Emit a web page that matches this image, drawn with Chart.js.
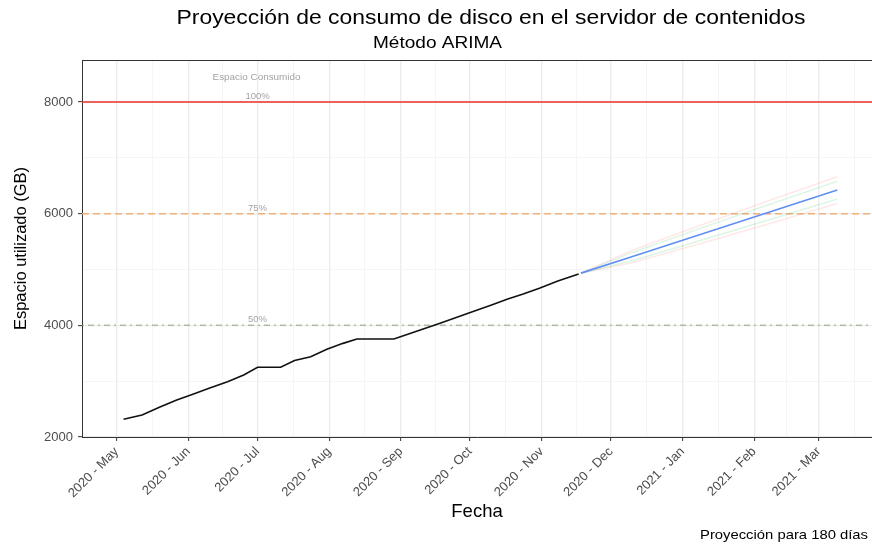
<!DOCTYPE html>
<html>
<head>
<meta charset="utf-8">
<script src="https://cdn.jsdelivr.net/npm/chart.js@4"></script>
<style>
  html,body{margin:0;padding:0;background:#fff;}
  #wrap{width:872px;height:544px;position:relative;}
</style>
</head>
<body>
<div id="wrap"><canvas id="c" width="872" height="544"></canvas></div>
<script>
// ---------- DATA ----------
const chartTitle = 'Proyección de consumo de disco en el servidor de contenidos';
const chartSubtitle = 'Método ARIMA';
const chartCaption = 'Proyección para 180 días';
const xTitle = 'Fecha';
const yTitle = 'Espacio utilizado (GB)';

const monthStarts = ['2020-04-01','2020-05-01','2020-06-01','2020-07-01','2020-08-01','2020-09-01','2020-10-01','2020-11-01','2020-12-01','2021-01-01','2021-02-01','2021-03-01','2021-04-01'];
const monthLabels = ['2020 - Apr','2020 - May','2020 - Jun','2020 - Jul','2020 - Aug','2020 - Sep','2020 - Oct','2020 - Nov','2020 - Dec','2021 - Jan','2021 - Feb','2021 - Mar','2021 - Apr'];
const yMajorTicks = [2000, 4000, 6000, 8000];

const histDates = ['2020-05-04','2020-05-12','2020-05-20','2020-05-27','2020-06-03','2020-06-10','2020-06-18','2020-06-25','2020-07-01','2020-07-11','2020-07-17','2020-07-24','2020-07-31','2020-08-07','2020-08-13','2020-08-29','2020-09-05','2020-09-18','2020-09-25','2020-10-02','2020-10-10','2020-10-17','2020-10-24','2020-10-31','2020-11-08','2020-11-17'];
const histValues = [2317,2394,2540,2662,2767,2872,2990,3110,3248,3248,3370,3437,3570,3677,3755,3755,3855,4036,4140,4244,4360,4467,4560,4664,4795,4918];

const fcDates = ['2020-11-18','2020-12-10','2021-01-10','2021-02-10','2021-03-09'];
const fcMean  = [4935,5230,5645,6060,6422];
const fcHi95  = [4935,5339,5812,6270,6663];
const fcLo95  = [4935,5121,5478,5850,6181];
const fcHi80  = [4935,5302,5755,6198,6580];
const fcLo80  = [4935,5158,5535,5922,6264];

const refValues = [8000, 6000, 4000];
const refLabels = ['100%', '75%', '50%'];
const refHeader = 'Espacio Consumido';
const refLabelDate = '2020-07-01';

// ---------- helpers ----------
const EPOCH = Date.UTC(2020, 4, 1);
function dayNum(s){ const p = s.split('-').map(Number); return (Date.UTC(p[0], p[1]-1, p[2]) - EPOCH) / 86400000; }
function pts(dates, vals){ return dates.map((d,i)=>({x: dayNum(d), y: vals[i]})); }

const majorX = monthStarts.map(dayNum);
const minorX = [];
for (let i = 0; i < majorX.length - 1; i++) minorX.push((majorX[i] + majorX[i+1]) / 2);
const majorXLabel = {};
majorX.forEach((v,i)=>{ majorXLabel[v] = monthLabels[i]; });
const minorY = [];
for (let i = 0; i < yMajorTicks.length - 1; i++) minorY.push((yMajorTicks[i] + yMajorTicks[i+1]) / 2);

const X_MIN = -15, X_MAX = 327;
const Y_MIN = 2000, Y_MAX = 8752;
const FONT = "'Liberation Sans', Arial, Helvetica, sans-serif";

const refColors = ['#EE3229', '#F0B27C', 'rgba(130,165,120,0.65)'];
const refDash = [[], [7,4], [2,4,6,4]];

const datasets = [];
refValues.forEach((v,i)=>{
  datasets.push({
    label: refLabels[i], data: [{x: X_MIN, y: v}, {x: X_MAX, y: v}],
    borderColor: refColors[i], borderWidth: 1.5, borderDash: refDash[i],
    pointRadius: 0, order: 5
  });
});
const bandDefs = [
  [fcHi95, 'rgba(248,118,109,0.16)'],
  [fcLo95, 'rgba(248,118,109,0.16)'],
  [fcHi80, 'rgba(0,186,56,0.13)'],
  [fcLo80, 'rgba(0,186,56,0.13)']
];
bandDefs.forEach(([vals,col])=>{
  datasets.push({ data: pts(fcDates, vals), borderColor: col, borderWidth: 1.6, pointRadius: 0, order: 3 });
});
datasets.push({ label: 'hist', data: pts(histDates, histValues), borderColor: '#111111', borderWidth: 1.6, pointRadius: 0, order: 1 });
datasets.push({ label: 'forecast', data: pts(fcDates, fcMean), borderColor: '#5E8FF5', borderWidth: 1.6, pointRadius: 0, order: 1 });

// draw text stretched horizontally to a target width (the reference text is slightly wide)
function wideText(ctx, text, cx, cy, font, targetW, align){
  ctx.save();
  ctx.font = font;
  const w = ctx.measureText(text).width;
  const k = targetW / w;
  ctx.translate(cx, cy);
  ctx.scale(k, 1);
  ctx.textAlign = align; ctx.textBaseline = 'middle';
  ctx.fillText(text, 0, 0);
  ctx.restore();
}

const textPlugin = {
  id: 'texts',
  afterDraw(chart){
    const ctx = chart.ctx, a = chart.chartArea;
    const xs = chart.scales.x, ys = chart.scales.y;
    ctx.save();
    // panel top border
    ctx.strokeStyle = '#333333'; ctx.lineWidth = 1;
    ctx.beginPath(); ctx.moveTo(a.left, a.top + 0.5); ctx.lineTo(a.right, a.top + 0.5); ctx.stroke();
    // titles
    ctx.fillStyle = '#000000';
    wideText(ctx, chartTitle, 491, 18, '21px ' + FONT, 629, 'center');
    wideText(ctx, chartSubtitle, 437.5, 44, '16px ' + FONT, 129, 'center');
    wideText(ctx, chartCaption, 868, 535, '13px ' + FONT, 168, 'right');
    // reference labels
    ctx.fillStyle = '#A3A3A3'; ctx.textAlign = 'center'; ctx.textBaseline = 'bottom';
    ctx.font = '9.5px ' + FONT;
    const lx = xs.getPixelForValue(dayNum(refLabelDate));
    refValues.forEach((v,i)=>{ ctx.fillText(refLabels[i], lx, ys.getPixelForValue(v) - 1); });
    wideText(ctx, refHeader, lx - 1, ys.getPixelForValue(refValues[0]) - 25, '9.5px ' + FONT, 88, 'center');
    ctx.restore();
  }
};

new Chart(document.getElementById('c'), {
  type: 'line',
  data: { datasets },
  plugins: [textPlugin],
  options: {
    responsive: false, animation: false,
    layout: { padding: { top: 60, left: 0, right: 0, bottom: 0 } },
    plugins: { legend: { display: false }, tooltip: { enabled: false }, title: { display: false } },
    elements: { line: { tension: 0 } },
    scales: {
      x: {
        type: 'linear', min: X_MIN, max: X_MAX,
        afterBuildTicks(s){ s.ticks = majorX.concat(minorX).filter(v=>v>=X_MIN && v<=X_MAX).sort((a,b)=>a-b).map(v=>({value:v})); },
        afterFit(s){ s.height = 107; },
        ticks: {
          autoSkip: false, maxRotation: 45, minRotation: 45, padding: 3,
          color: '#4D4D4D', font: { family: FONT, size: 13 },
          callback(v){ return majorXLabel[v] !== undefined ? majorXLabel[v] : ''; }
        },
        grid: {
          drawTicks: true, tickLength: 4,
          color(c){ return (c.tick && majorXLabel[c.tick.value] !== undefined) ? '#EBEBEB' : '#F3F3F3'; },
          lineWidth(c){ return (c.tick && majorXLabel[c.tick.value] !== undefined) ? 1.3 : 0.8; },
          tickColor(c){ return (c.tick && majorXLabel[c.tick.value] !== undefined) ? '#333333' : 'rgba(0,0,0,0)'; },
          tickWidth: 1
        },
        border: { display: true, color: '#333333', width: 1 },
        title: { display: true, text: xTitle, color: '#000000', font: { family: FONT, size: 18.5 }, padding: { top: 0, bottom: 21 } }
      },
      y: {
        type: 'linear', min: Y_MIN, max: Y_MAX,
        afterBuildTicks(s){ s.ticks = yMajorTicks.concat(minorY).sort((a,b)=>a-b).map(v=>({value:v})); },
        afterFit(s){ s.width = 82; },
        ticks: {
          padding: 5, color: '#4D4D4D', font: { family: FONT, size: 13 },
          callback(v){ return yMajorTicks.includes(v) ? String(v) : ''; }
        },
        grid: {
          drawTicks: true, tickLength: 4,
          color(c){ return (c.tick && yMajorTicks.includes(c.tick.value)) ? '#EBEBEB' : '#F3F3F3'; },
          lineWidth(c){ return (c.tick && yMajorTicks.includes(c.tick.value)) ? 1.3 : 0.8; },
          tickColor(c){ return (c.tick && yMajorTicks.includes(c.tick.value)) ? '#333333' : 'rgba(0,0,0,0)'; },
          tickWidth: 1
        },
        border: { display: true, color: '#333333', width: 1 },
        title: { display: true, text: yTitle, color: '#000000', font: { family: FONT, size: 16.5 }, padding: { top: 12, bottom: 0 } }
      }
    }
  }
});
</script>
</body>
</html>
